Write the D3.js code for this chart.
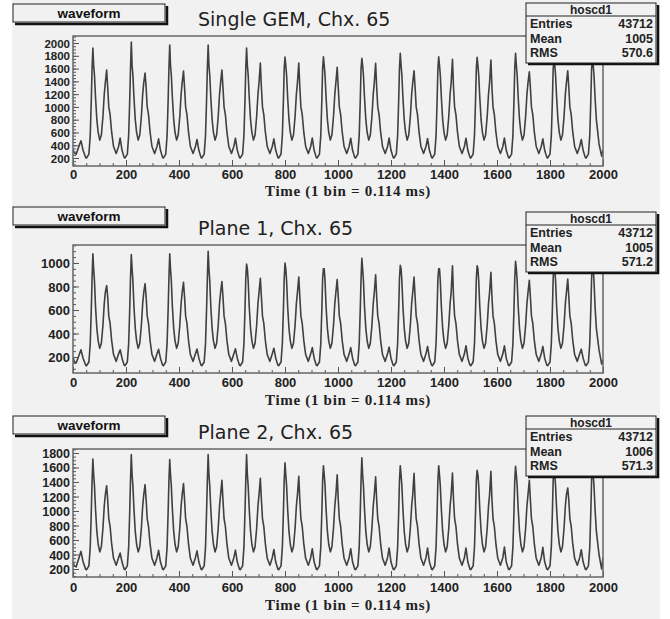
<!DOCTYPE html>
<html>
<head>
<meta charset="utf-8">
<script src="https://cdn.jsdelivr.net/npm/d3@7"></script>
<style>
  body { margin: 0; background: #fff; }
  svg text { font-family: "Liberation Sans", Arial, sans-serif; }
</style>
</head>
<body>
<svg id="chart" width="670" height="619"></svg>
<script>
// bins of the tall peak of each mains cycle
const peakBins = [75, 220, 365, 510, 655, 800, 945, 1090, 1235, 1380, 1525, 1670, 1815, 1960];
// sample points of one cycle, in bins relative to the tall peak
const phaseBins = [-24, -15, -10, -6, -3, 0, 3, 6, 10, 15, 20, 26, 32, 38, 43, 47, 52, 56, 60, 65, 71, 78, 88, 97, 103, 110, 118];
const TALL = 5, MED = 16, BUMP = 24;
const lastCut = 1975;

const xTicks = [0, 200, 400, 600, 800, 1000, 1200, 1400, 1600, 1800, 2000];

// Single GEM
const start1 = [[0, 330], [5, 280], [12, 260], [22, 380], [30, 470], [38, 320], [48, 205]];
const shape1 = [200, 260, 550, 1100, 1600, null, 1650, 1500, 1150, 800, 600, 480, 560, 850, 1200, 1380, null, 1300, 1000, 880, 600, 380, 270, 380, null, 320, 210];
const tall1 = [1921, 2015, 1968, 1968, 1920, 1780, 1785, 1760, 1838, 1785, 1776, 1838, 1720, 1720];
const med1 = [1577, 1530, 1560, 1577, 1687, 1687, 1620, 1682, 1567, 1745, 1733, 1550, 1567];
const bump1 = [513, 500, 490, 510, 500, 513, 510, 513, 505, 510, 513, 500, 490];
const end1 = [[1985, 420], [1995, 230], [2000, 330]];
const yTicks1 = [200, 400, 600, 800, 1000, 1200, 1400, 1600, 1800, 2000];

// Plane 1
const start2 = [[0, 200], [5, 160], [12, 150], [22, 210], [30, 262], [38, 190], [48, 130]];
const shape2 = [126, 158, 312, 603, 868, null, 950, 850, 630, 444, 338, 274, 317, 470, 656, 750, null, 710, 550, 486, 338, 221, 163, 227, null, 190, 131];
const tall2 = [1079, 1071, 1079, 1099, 990, 1000, 950, 1040, 980, 950, 977, 1014, 1000, 1000];
const med2 = [807, 824, 835, 843, 870, 880, 860, 900, 880, 977, 920, 852, 864];
const bump2 = [262, 265, 268, 270, 275, 280, 280, 285, 290, 296, 295, 290, 267];
const end2 = [[1985, 260], [1995, 140], [2000, 175]];
const yTicks2 = [200, 400, 600, 800, 1000];

// Plane 2
const start3 = [[0, 300], [5, 240], [12, 230], [22, 350], [30, 443], [38, 300], [48, 195]];
const shape3 = [190, 243, 498, 982, 1422, null, 1500, 1350, 1026, 718, 542, 436, 507, 762, 1070, 1226, null, 1150, 894, 788, 542, 348, 252, 357, null, 296, 199];
const tall3 = [1717, 1777, 1708, 1777, 1777, 1666, 1625, 1735, 1625, 1625, 1560, 1615, 1600, 1600];
const med3 = [1349, 1363, 1377, 1422, 1450, 1480, 1500, 1470, 1520, 1524, 1546, 1422, 1317];
const bump3 = [420, 457, 450, 460, 470, 480, 480, 490, 490, 490, 503, 500, 466];
const end3 = [[1985, 400], [1995, 200], [2000, 355]];
const yTicks3 = [200, 400, 600, 800, 1000, 1200, 1400, 1600, 1800];

const titles = ["Single GEM, Chx. 65", "Plane 1, Chx. 65", "Plane 2, Chx. 65"];
const statLabels = ["Entries", "Mean", "RMS"];
const statValues = [["43712", "1005", "570.6"], ["43712", "1005", "571.2"], ["43712", "1006", "571.3"]];

function buildWave(start, shape, tall, med, bump, end) {
  const pts = start.slice();
  peakBins.forEach((t, k) => {
    phaseBins.forEach((p, i) => {
      const bin = t + p;
      if (k === peakBins.length - 1 && bin > lastCut) return;
      let v = shape[i];
      if (i === TALL) v = tall[k];
      if (i === MED) v = med[k];
      if (i === BUMP) v = bump[k];
      pts.push([bin, v]);
    });
  });
  return pts.concat(end);
}

const panels = [
  { wave: buildWave(start1, shape1, tall1, med1, bump1, end1), yDomain: [75, 2110], yTicks: yTicks1, yFont: 11.5,
    top: 36, bottom: 166, boxY: 4, titleY: 26, statY: 3, labelY: 179, axisTitleY: 196 },
  { wave: buildWave(start2, shape2, tall2, med2, bump2, end2), yDomain: [64, 1153], yTicks: yTicks2, yFont: 13,
    top: 245, bottom: 373, boxY: 207, titleY: 235, statY: 212, labelY: 387, axisTitleY: 405 },
  { wave: buildWave(start3, shape3, tall3, med3, bump3, end3), yDomain: [90, 1855], yTicks: yTicks3, yFont: 12.5,
    top: 449, bottom: 577, boxY: 416, titleY: 439, statY: 416, labelY: 592, axisTitleY: 610 }
];

const svg = d3.select("#chart");
const left = 73, right = 603;

svg.append("rect")
    .attr("x", 12).attr("y", 0)
    .attr("width", 648).attr("height", 619)
    .attr("fill", "#f1f1f1");

const x = d3.scaleLinear().domain([0, 2000]).range([left, right]);

panels.forEach((p, idx) => {
  const g = svg.append("g");
  const y = d3.scaleLinear().domain(p.yDomain).range([p.bottom, p.top]);

  g.append("clipPath").attr("id", "clip" + idx)
    .append("rect")
      .attr("x", left).attr("y", p.top)
      .attr("width", right - left).attr("height", p.bottom - p.top);

  // waveform
  const line = d3.line().x(d => x(d[0])).y(d => y(d[1]));
  g.append("path")
      .datum(p.wave)
      .attr("clip-path", `url(#clip${idx})`)
      .attr("fill", "none")
      .attr("stroke", "#404040")
      .attr("stroke-width", 1.6)
      .attr("stroke-linejoin", "round")
      .attr("d", line);

  // minor ticks
  g.append("g")
      .attr("transform", `translate(0,${p.bottom})`)
      .call(d3.axisBottom(x).tickValues(d3.range(0, 2001, 50)).tickSize(-3).tickFormat(""))
      .call(a => a.select(".domain").remove())
      .call(a => a.selectAll("line").attr("stroke", "#555"));
  g.append("g")
      .attr("transform", `translate(${left},0)`)
      .call(d3.axisLeft(y).tickValues(d3.range(100, p.yDomain[1], 50)).tickSize(-3).tickFormat(""))
      .call(a => a.select(".domain").remove())
      .call(a => a.selectAll("line").attr("stroke", "#555"));

  // major ticks and labels
  g.append("g")
      .attr("transform", `translate(0,${p.bottom})`)
      .call(d3.axisBottom(x).tickValues(xTicks).tickSize(-6).tickPadding(0).tickFormat(d3.format("d")))
      .call(a => a.select(".domain").remove())
      .call(a => a.selectAll("line").attr("stroke", "#555"))
      .call(a => a.selectAll("text")
          .attr("y", p.labelY - p.bottom).attr("dy", null)
          .attr("fill", "#222")
          .style("font-size", "13px").style("font-weight", "bold"));

  g.append("g")
      .attr("transform", `translate(${left},0)`)
      .call(d3.axisLeft(y).tickValues(p.yTicks).tickSize(-6).tickPadding(0).tickFormat(d3.format("d")))
      .call(a => a.select(".domain").remove())
      .call(a => a.selectAll("line").attr("stroke", "#555"))
      .call(a => a.selectAll("text")
          .attr("x", -3).attr("dy", "0.36em")
          .attr("fill", "#222")
          .style("font-size", p.yFont + "px").style("font-weight", "bold"));

  // frame
  g.append("rect")
      .attr("x", left).attr("y", p.top)
      .attr("width", right - left).attr("height", p.bottom - p.top)
      .attr("fill", "none")
      .attr("stroke", "#666")
      .attr("stroke-width", 1.5);

  g.append("text")
      .attr("x", 348).attr("y", p.axisTitleY)
      .attr("text-anchor", "middle")
      .style("font-family", "'Liberation Serif', 'Times New Roman', serif")
      .style("font-weight", "bold")
      .style("font-size", "15px")
      .style("letter-spacing", "0.7px")
      .attr("fill", "#222")
      .text("Time (1 bin = 0.114 ms)");

  // "waveform" label box
  g.append("path")
      .attr("d", `M15,${p.boxY + 20}H167V${p.boxY + 2}`)
      .attr("fill", "none").attr("stroke", "#111").attr("stroke-width", 2.5);
  g.append("rect")
      .attr("x", 13).attr("y", p.boxY)
      .attr("width", 152).attr("height", 18)
      .attr("fill", "#f1f1f1").attr("stroke", "#222").attr("stroke-width", 1);
  g.append("text")
      .attr("x", 89).attr("y", p.boxY + 14)
      .attr("text-anchor", "middle")
      .style("font-size", "13.5px").style("font-weight", "bold")
      .attr("fill", "#111")
      .text("waveform");

  g.append("text")
      .attr("x", 198).attr("y", p.titleY)
      .style("font-family", "'DejaVu Sans', sans-serif")
      .style("font-size", "19px")
      .attr("fill", "#222")
      .text(titles[idx]);

  // stats box
  const sy = p.statY;
  g.append("path")
      .attr("d", `M528,${sy + 61}H658V${sy + 2}`)
      .attr("fill", "none").attr("stroke", "#111").attr("stroke-width", 2.5);
  g.append("rect")
      .attr("x", 526).attr("y", sy)
      .attr("width", 130).attr("height", 60)
      .attr("fill", "#f1f1f1").attr("stroke", "#222").attr("stroke-width", 1);
  g.append("line")
      .attr("x1", 526).attr("x2", 656)
      .attr("y1", sy + 13).attr("y2", sy + 13)
      .attr("stroke", "#222");
  g.append("text")
      .attr("x", 591).attr("y", sy + 10.5)
      .attr("text-anchor", "middle")
      .style("font-size", "12px").style("font-weight", "bold")
      .attr("fill", "#222")
      .text("hoscd1");
  statLabels.forEach((lab, i) => {
    g.append("text")
        .attr("x", 530).attr("y", sy + 25 + i * 14.5)
        .style("font-size", "12.5px").style("font-weight", "bold")
        .attr("fill", "#222")
        .text(lab);
    g.append("text")
        .attr("x", 653).attr("y", sy + 25 + i * 14.5)
        .attr("text-anchor", "end")
        .style("font-size", "12.5px").style("font-weight", "bold")
        .attr("fill", "#222")
        .text(statValues[idx][i]);
  });
});
</script>
</body>
</html>
